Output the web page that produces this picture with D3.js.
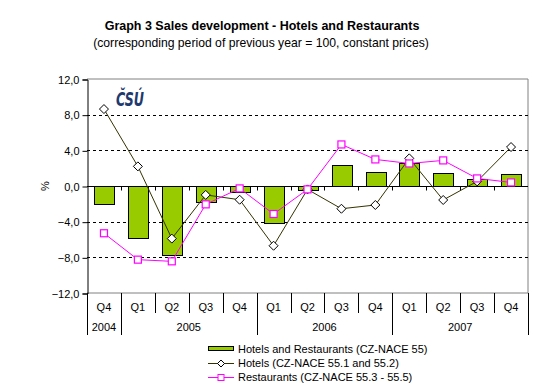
<!DOCTYPE html>
<html>
<head>
<meta charset="utf-8">
<script src="https://cdn.jsdelivr.net/npm/d3@7"></script>
<style>
  body { margin: 0; background: #fff; }
  text { font-family: "Liberation Sans", Arial, sans-serif; }
</style>
</head>
<body>
<div id="chart"></div>
<script>
var quarters = ["Q4", "Q1", "Q2", "Q3", "Q4", "Q1", "Q2", "Q3", "Q4", "Q1", "Q2", "Q3", "Q4"];
var years = [{name: "2004", from: 0, to: 1}, {name: "2005", from: 1, to: 5},
             {name: "2006", from: 5, to: 9}, {name: "2007", from: 9, to: 13}];
var hotelsRestaurants = [-2.0, -5.8, -7.7, -1.8, -0.65, -4.15, -0.4, 2.35, 1.57, 2.58, 1.46, 0.82, 1.35];
var hotels = [8.63, 2.2, -5.9, -1.0, -1.54, -6.7, -0.38, -2.55, -2.13, 3.1, -1.57, 0.52, 4.37];
var restaurants = [-5.3, -8.26, -8.45, -2.06, -0.27, -3.14, -0.38, 4.66, 2.98, 2.53, 2.87, 0.85, 0.4];
var yTicks = [-12, -8, -4, 0, 4, 8, 12];
var legendNames = ["Hotels and Restaurants (CZ-NACE 55)", "Hotels (CZ-NACE 55.1 and 55.2)",
                   "Restaurants (CZ-NACE 55.3 - 55.5)"];

var width = 556, height = 392;
var plot = {left: 87, right: 528, top: 79, bottom: 293};

var svg = d3.select("#chart").append("svg")
    .attr("width", width)
    .attr("height", height);

var idx = d3.range(quarters.length);

var xScale = d3.scaleBand()
    .domain(idx)
    .range([plot.left, plot.right])
    .paddingInner(0.42)
    .paddingOuter(0.21);

var xEdge = d3.scaleLinear()
    .domain([0, quarters.length])
    .range([plot.left, plot.right]);

var yScale = d3.scaleLinear()
    .domain([-12, 12])
    .range([plot.bottom, plot.top]);

function cx(i) { return xEdge(i + 0.5); }

// titles
svg.append("text")
    .attr("x", 262).attr("y", 30)
    .attr("text-anchor", "middle")
    .style("font-size", "12.5px").style("font-weight", "bold")
    .text("Graph 3 Sales development - Hotels and Restaurants");
svg.append("text")
    .attr("x", 261).attr("y", 47)
    .attr("text-anchor", "middle")
    .style("font-size", "12.2px")
    .text("(corresponding period of previous year = 100, constant prices)");

// plot frame (top and right, grey)
svg.append("path")
    .attr("d", "M" + plot.left + "," + plot.top + "H" + plot.right + "V" + plot.bottom + "H" + plot.left)
    .attr("fill", "none")
    .attr("stroke", "#808080");

// grid lines
svg.append("g")
    .selectAll("line")
    .data([-8, -4, 4, 8])
    .enter().append("line")
    .attr("x1", plot.left).attr("x2", plot.right)
    .attr("y1", function (d) { return Math.round(yScale(d)) + 0.5; })
    .attr("y2", function (d) { return Math.round(yScale(d)) + 0.5; })
    .attr("stroke", "#000")
    .attr("stroke-dasharray", "3,3");

// y axis
var yAxis = d3.axisLeft(yScale)
    .tickValues(yTicks)
    .tickSize(5)
    .tickPadding(3)
    .tickFormat(function (d) { return d3.format(".1f")(d).replace(".", ","); });

var yg = svg.append("g")
    .attr("transform", "translate(" + (plot.left + 0.5) + ",0.5)")
    .call(yAxis);
yg.select(".domain").attr("stroke", "#000");
yg.selectAll("text").style("font-size", "11px").style("font-family", "Liberation Sans, Arial, sans-serif").attr("fill", "#000");

svg.append("text")
    .attr("transform", "translate(45," + yScale(0) + ") rotate(-90)")
    .attr("text-anchor", "middle")
    .attr("dy", "0.35em")
    .style("font-size", "11px")
    .text("%");

// logo
svg.append("text")
    .attr("x", 116).attr("y", 106)
    .style("font-size", "20px").style("font-weight", "bold").style("font-style", "italic")
    .style("font-family", "DejaVu Sans, sans-serif")
    .attr("fill", "#1f3a6e")
    .attr("textLength", 28)
    .attr("lengthAdjust", "spacingAndGlyphs")
    .text("ČSÚ");

// bars
svg.append("g")
    .selectAll("rect")
    .data(hotelsRestaurants)
    .enter().append("rect")
    .attr("x", function (d, i) { return Math.round(xScale(i)) + 0.5; })
    .attr("width", Math.round(xScale.bandwidth()))
    .attr("y", function (d) { return Math.round(yScale(Math.max(0, d))) + 0.5; })
    .attr("height", function (d) { return Math.round(Math.abs(yScale(d) - yScale(0))); })
    .attr("fill", "#99cc00")
    .attr("stroke", "#000")
    .attr("stroke-width", 1);

// zero line with ticks
var zeroY = Math.round(yScale(0)) + 0.5;
svg.append("line")
    .attr("x1", plot.left).attr("x2", plot.right)
    .attr("y1", zeroY).attr("y2", zeroY)
    .attr("stroke", "#000");
svg.append("g")
    .selectAll("line")
    .data(d3.range(1, quarters.length))
    .enter().append("line")
    .attr("x1", function (d) { return Math.round(xEdge(d)) + 0.5; })
    .attr("x2", function (d) { return Math.round(xEdge(d)) + 0.5; })
    .attr("y1", zeroY).attr("y2", zeroY + 4)
    .attr("stroke", "#000");

// lines
var line = d3.line()
    .x(function (d, i) { return cx(i); })
    .y(function (d) { return yScale(d); });

svg.append("path")
    .datum(hotels)
    .attr("d", line)
    .attr("fill", "none")
    .attr("stroke", "#333300")
    .attr("stroke-width", 1);

svg.append("path")
    .datum(restaurants)
    .attr("d", line)
    .attr("fill", "none")
    .attr("stroke", "#ff00ff")
    .attr("stroke-width", 1);

var diamond = "M0,-4.5L4.5,0L0,4.5L-4.5,0Z";
svg.append("g")
    .selectAll("path")
    .data(hotels)
    .enter().append("path")
    .attr("d", diamond)
    .attr("transform", function (d, i) { return "translate(" + cx(i) + "," + yScale(d) + ")"; })
    .attr("fill", "#fff")
    .attr("stroke", "#000");

svg.append("g")
    .selectAll("rect")
    .data(restaurants)
    .enter().append("rect")
    .attr("x", function (d, i) { return cx(i) - 3.5; })
    .attr("y", function (d) { return yScale(d) - 3.5; })
    .attr("width", 7).attr("height", 7)
    .attr("fill", "#fff")
    .attr("stroke", "#ff00ff")
    .attr("stroke-width", 1.2);

// category axis
var catG = svg.append("g");
catG.selectAll("line.q")
    .data(d3.range(1, quarters.length))
    .enter().append("line")
    .attr("x1", function (d) { return Math.round(xEdge(d)) + 0.5; })
    .attr("x2", function (d) { return Math.round(xEdge(d)) + 0.5; })
    .attr("y1", plot.bottom).attr("y2", 313)
    .attr("stroke", "#000");
catG.selectAll("line.y")
    .data([0].concat(years.map(function (y) { return y.to; })))
    .enter().append("line")
    .attr("x1", function (d) { return Math.round(xEdge(d)) + 0.5; })
    .attr("x2", function (d) { return Math.round(xEdge(d)) + 0.5; })
    .attr("y1", plot.bottom).attr("y2", 335)
    .attr("stroke", "#000");
catG.selectAll("text.q")
    .data(quarters)
    .enter().append("text")
    .attr("x", function (d, i) { return cx(i); })
    .attr("y", 311)
    .attr("text-anchor", "middle")
    .style("font-size", "11px")
    .text(function (d) { return d; });
catG.selectAll("text.yr")
    .data(years)
    .enter().append("text")
    .attr("x", function (d) { return (xEdge(d.from) + xEdge(d.to)) / 2; })
    .attr("y", 331)
    .attr("text-anchor", "middle")
    .style("font-size", "11px")
    .text(function (d) { return d.name; });

// legend
var lg = svg.append("g").attr("transform", "translate(208,349)");
lg.append("rect")
    .attr("x", 0.5).attr("y", -2.5).attr("width", 25).attr("height", 4)
    .attr("fill", "#99cc00").attr("stroke", "#000");
lg.append("line")
    .attr("x1", 0).attr("x2", 26).attr("y1", 14.5).attr("y2", 14.5)
    .attr("stroke", "#333300");
lg.append("path")
    .attr("d", "M0,-3.5L3.5,0L0,3.5L-3.5,0Z")
    .attr("transform", "translate(13,14.5)")
    .attr("fill", "#fff").attr("stroke", "#000");
lg.append("line")
    .attr("x1", 0).attr("x2", 26).attr("y1", 28.5).attr("y2", 28.5)
    .attr("stroke", "#ff00ff");
lg.append("rect")
    .attr("x", 10).attr("y", 25.5).attr("width", 6).attr("height", 6)
    .attr("fill", "#fff").attr("stroke", "#ff00ff");
lg.selectAll("text")
    .data(legendNames)
    .enter().append("text")
    .attr("x", 30)
    .attr("y", function (d, i) { return i * 14; })
    .attr("dy", "0.35em")
    .style("font-size", "11px")
    .text(function (d) { return d; });
</script>
</body>
</html>
